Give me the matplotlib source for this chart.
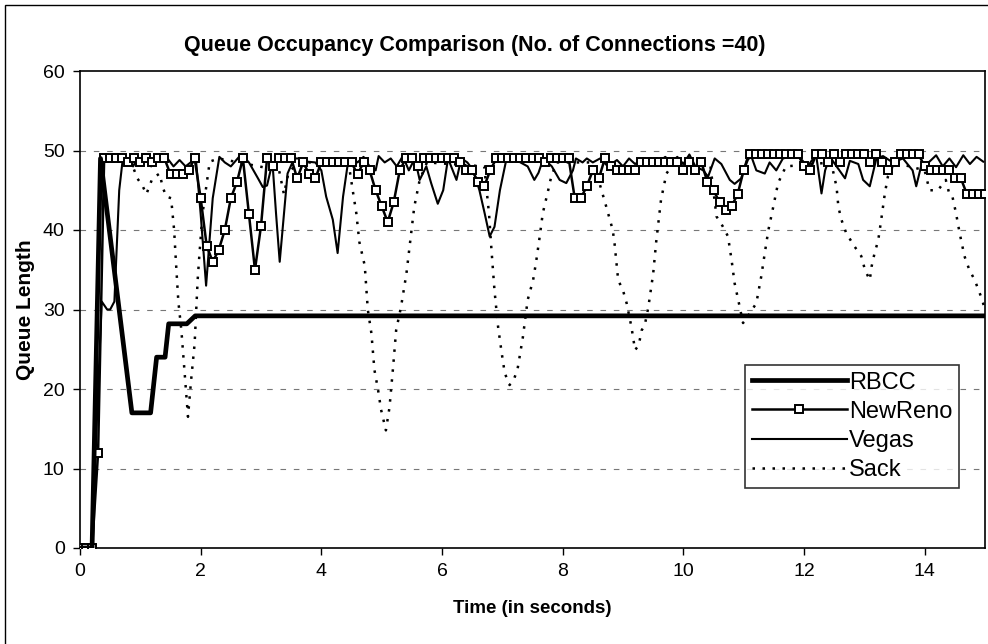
import matplotlib
matplotlib.use("Agg")
import matplotlib.pyplot as plt
from matplotlib.patches import Rectangle

# -------- Data --------
rbcc_t = [0.0, 0.2, 0.34, 0.86, 1.17, 1.27, 1.41, 1.47, 1.77, 1.91, 15.0]
rbcc_q = [0, 0, 49, 17, 17, 24, 24, 28.2, 28.2, 29.2, 29.2]

# NewReno sampled every 0.1 s (one square marker per sample)
newreno_t = [i / 10 for i in range(151)]
newreno_q = [
    0, 0, 0, 12, 49, 49, 49, 49, 48.5, 49,
    48.5, 49, 48.5, 49, 49, 47, 47, 47, 47.5, 49,
    44, 38, 36, 37.5, 40, 44, 46, 49, 42, 35,
    40.5, 49, 48, 49, 49, 49, 46.5, 48.5, 47, 46.5,
    48.5, 48.5, 48.5, 48.5, 48.5, 48.5, 47, 48.5, 47.5, 45,
    43, 41, 43.5, 47.5, 49, 49, 48, 49, 49, 49,
    49, 49, 49, 48.5, 47.5, 47.5, 46, 45.5, 47.5, 49,
    49, 49, 49, 49, 49, 49, 49, 48.5, 49, 49,
    49, 49, 44, 44, 45.5, 47.5, 46.5, 49, 48, 47.5,
    47.5, 47.5, 47.5, 48.5, 48.5, 48.5, 48.5, 48.5, 48.5, 48.5,
    47.5, 48.5, 47.5, 48.5, 46, 45, 43.5, 42.5, 43, 44.5,
    47.5, 49.5, 49.5, 49.5, 49.5, 49.5, 49.5, 49.5, 49.5, 49.5,
    48, 47.5, 49.5, 49.5, 48.5, 49.5, 48.5, 49.5, 49.5, 49.5,
    49.5, 48.5, 49.5, 48.5, 47.5, 48.5, 49.5, 49.5, 49.5, 49.5,
    48, 47.5, 47.5, 47.5, 47.5, 46.5, 46.5, 44.5, 44.5, 44.5,
    44.5,
]

vegas_t = [
    0.0, 0.2, 0.3, 0.36, 0.45, 0.5, 0.57, 0.65, 0.71, 0.8,
    0.88, 0.95, 1.02, 1.1, 1.18, 1.25, 1.35, 1.45, 1.55, 1.65,
    1.75, 1.85, 1.92, 2.0, 2.09, 2.2, 2.31, 2.4, 2.5, 2.67,
    2.8, 2.95, 3.03, 3.1, 3.19, 3.25, 3.31, 3.38, 3.44, 3.55,
    3.65, 3.76, 3.9, 4.0, 4.08, 4.19, 4.27, 4.36, 4.44, 4.52,
    4.6, 4.7, 4.8, 4.9, 4.95, 5.05, 5.15, 5.25, 5.35, 5.45,
    5.55, 5.63, 5.74, 5.82, 5.93, 6.02, 6.1, 6.24, 6.32, 6.42,
    6.52, 6.62, 6.71, 6.79, 6.87, 6.96, 7.07, 7.2, 7.3, 7.42,
    7.53, 7.6, 7.68, 7.82, 7.95, 8.06, 8.17, 8.22, 8.33, 8.4,
    8.5, 8.62, 8.75, 8.9, 9.0, 9.1, 9.2, 9.3, 9.4, 9.5,
    9.6, 9.7, 9.8, 9.9, 10.0, 10.1, 10.2, 10.33, 10.41, 10.52,
    10.63, 10.77, 10.85, 10.96, 11.05, 11.13, 11.21, 11.35, 11.43, 11.54,
    11.65, 11.76, 11.92, 12.06, 12.2, 12.29, 12.35, 12.43, 12.54, 12.68,
    12.76, 12.9, 12.98, 13.09, 13.2, 13.31, 13.47, 13.64, 13.8, 13.86,
    13.94, 14.08, 14.19, 14.3, 14.41, 14.52, 14.64, 14.75, 14.86, 14.97,
]
vegas_q = [
    0, 0, 20, 31, 30, 30, 31, 45, 49, 49,
    48, 49, 48.5, 49, 48, 49, 49, 49, 48, 48.8,
    48, 48.6, 49, 42, 33, 44, 49.2, 48.5, 48, 49.5,
    48.5, 46.5, 45.4, 45.6, 48.5, 42, 36, 42, 47.1, 49,
    49, 48.6, 48.5, 47.5, 44.2, 41.3, 37.1, 44.2, 48.4, 49,
    48.5, 49.2, 48, 47.5, 49.3, 48.5, 49, 48, 49.3, 47.5,
    49, 46.3, 48, 45.9, 43.3, 45, 49, 46.3, 49, 48.5,
    47.5, 45, 42, 39.2, 40.4, 45, 49, 49, 48.5, 48,
    46.3, 47.2, 49, 48, 46.3, 45.9, 47.5, 49, 48.5, 49,
    48.5, 49, 48, 48.8, 48, 49, 48.3, 48.8, 48.5, 49,
    48.6, 49.2, 48.5, 49.2, 48.3, 49.5, 48, 47.5, 46.7, 49,
    48.3, 46.3, 45.8, 46.5, 48.8, 49.2, 47.5, 47.1, 48.5, 47.5,
    49, 49.2, 49.2, 48, 49.5, 44.6, 47.5, 49.2, 48, 46.5,
    48.7, 48.3, 46.3, 45.5, 49, 49.3, 48.5, 49, 47.5, 45.5,
    48, 48.6, 49.4, 48, 49, 47.9, 49.4, 48.3, 49.2, 48.6,
]

sack_t = [
    0.0, 0.2, 0.35, 0.6, 0.85, 0.95, 1.04, 1.1, 1.2, 1.32,
    1.37, 1.43, 1.51, 1.56, 1.59, 1.63, 1.68, 1.73, 1.79, 1.84,
    1.9, 1.95, 1.98, 2.03, 2.15, 2.3, 3.3, 3.38, 3.45, 3.6,
    4.45, 4.52, 4.58, 4.63, 4.72, 4.77, 4.83, 4.88, 4.94, 4.99,
    5.07, 5.13, 5.19, 5.24, 5.32, 5.41, 5.49, 5.54, 5.63, 5.75,
    6.7, 6.78, 6.82, 6.87, 6.93, 6.99, 7.04, 7.12, 7.18, 7.25,
    7.34, 7.42, 7.51, 7.56, 7.62, 7.67, 7.76, 7.81, 7.9, 8.5,
    8.61, 8.72, 8.83, 8.86, 8.92, 9.0, 9.06, 9.14, 9.2, 9.26,
    9.31, 9.36, 9.42, 9.5, 9.55, 9.63, 9.72, 9.85, 10.45, 10.55,
    10.65, 10.74, 10.8, 10.85, 10.91, 10.99, 11.1, 11.21, 11.29, 11.35,
    11.41, 11.49, 11.57, 11.7, 12.45, 12.54, 12.57, 12.62, 12.7, 12.84,
    12.95, 13.01, 13.09, 13.12, 13.17, 13.23, 13.28, 13.34, 13.39, 13.5,
    14.0, 14.08, 14.22, 14.35, 14.41, 14.46, 14.52, 14.58, 14.66, 14.74,
    14.83, 14.94, 15.0,
]
sack_q = [
    0, 0, 49, 49, 48.5, 46.5, 45.5, 44.5, 46.5, 47.1,
    45.4, 44.2, 44, 40, 36, 31, 27.4, 22.4, 16.5, 21,
    25.7, 33.7, 37, 42, 48.6, 49, 47.5, 44.5, 47, 48.5,
    48.5, 45, 42.1, 38.5, 35.5, 30, 27, 22.4, 19.9, 17.4,
    14.8, 17.7, 22.8, 27.4, 30.3, 34.5, 39.6, 42.9, 46.3, 48.5,
    48, 42, 37.5, 32.4, 27.8, 24.5, 22, 20.5, 21, 22.4,
    26.5, 31.2, 33.7, 36, 39.2, 42.1, 45, 46.7, 48.5, 48.5,
    45.9, 43, 40, 38.3, 33.7, 32.4, 30.8, 27.8, 24.9, 25.5,
    27.4, 28, 30.3, 34.5, 38.5, 43.8, 47.1, 48.5, 48, 41.7,
    40.5, 39.2, 36.2, 33.3, 31.2, 28.3, 29.5, 30.8, 34.1, 37.1,
    40, 42.9, 45.9, 48, 48.5, 45.4, 42.9, 41.3, 39.6, 37.9,
    36.7, 35, 33.7, 35.4, 37.1, 38.7, 41.3, 44.6, 46.7, 48.5,
    47.5, 45, 45, 46.3, 44.5, 44.2, 42.1, 39.6, 36.7, 35,
    33.7, 31.5, 30,
]

x_ticks = [0, 2, 4, 6, 8, 10, 12, 14]
y_ticks = [0, 10, 20, 30, 40, 50, 60]

plt.rcParams["font.family"] = ["Liberation Sans", "DejaVu Sans"]

fig = plt.figure(figsize=(9.88, 6.44), dpi=100)
ax = fig.add_axes([80 / 988, 1 - 548 / 644, 905 / 988, 477 / 644])

# outer chart-area border (left and top edges visible in the scan)
fig.patches.append(Rectangle((5 / 988, -0.01), 1.1, 1 - 5 / 644 + 0.01,
                             transform=fig.transFigure, fill=False,
                             edgecolor="black", linewidth=1.0))

# dashed gridlines
for yv in y_ticks[1:-1]:
    ax.axhline(yv, color="#777777", linewidth=0.8, linestyle=(0, (5, 7)),
               zorder=0)

ax.plot(sack_t, sack_q, color="black", linewidth=1.8, linestyle=(0, (1, 3)),
        label="Sack", zorder=2)
ax.plot(vegas_t, vegas_q, color="black", linewidth=1.5, label="Vegas",
        zorder=3)
ax.plot(newreno_t, newreno_q, color="black", linewidth=1.8, marker="s",
        markersize=5.5, markerfacecolor="white", markeredgecolor="black",
        markeredgewidth=1.4, label="NewReno", zorder=4)
ax.plot(rbcc_t, rbcc_q, color="black", linewidth=3.4, label="RBCC", zorder=5)

ax.set_xlim(0, 15)
ax.set_ylim(0, 60)
ax.set_xticks(x_ticks)
ax.set_yticks(y_ticks)
ax.tick_params(direction="out", length=5, width=1, labelsize=14, pad=6)
for side in ["left", "bottom", "top", "right"]:
    ax.spines[side].set_linewidth(1.2)

ax.set_xlabel("Time (in seconds)", fontsize=13.5, fontweight="bold",
              labelpad=14)
ax.set_ylabel("Queue Length", fontsize=15, fontweight="bold", labelpad=6)

fig.text(475 / 988, 1 - 45 / 644,
         "Queue Occupancy Comparison (No. of Connections =40)",
         ha="center", va="center", fontsize=15.5, fontweight="bold")

handles, labels = ax.get_legend_handles_labels()
order = [3, 2, 1, 0]
leg = ax.legend([handles[i] for i in order], [labels[i] for i in order],
                loc="lower left", fontsize=17,
                frameon=True, fancybox=False, edgecolor="black",
                handlelength=4.0, handletextpad=0.1, labelspacing=0.3,
                borderpad=0.3, borderaxespad=0)
leg.set_bbox_to_anchor((745 / 988, 1 - 488 / 644), transform=fig.transFigure)
leg.get_frame().set_linewidth(1.2)

fig.savefig("out.png", dpi=100)
